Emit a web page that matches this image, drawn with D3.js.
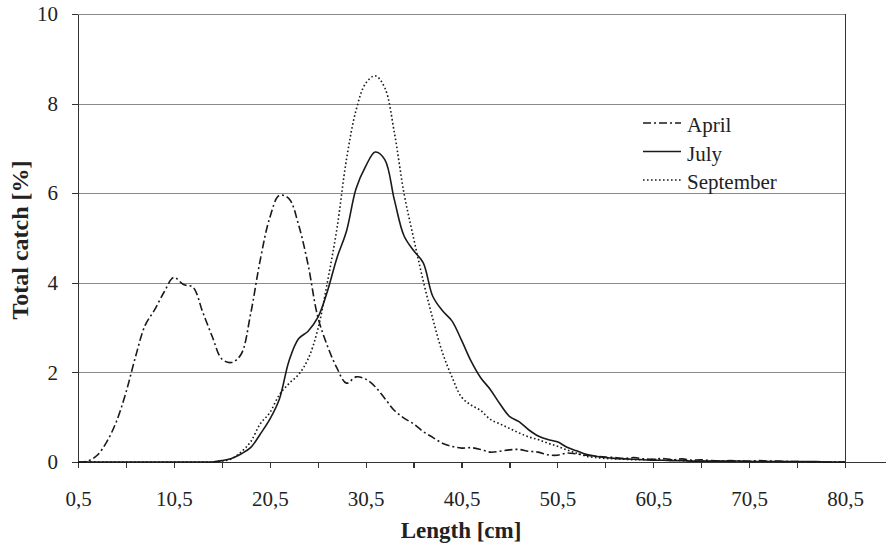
<!DOCTYPE html>
<meta charset="utf-8">
<script src="https://cdn.jsdelivr.net/npm/d3@7"></script>
<style>
    body { margin: 0; background: #fff; }
    svg text { font-family: "Liberation Serif", "Times New Roman", serif; fill: #222; }
    .grid line { stroke: #8a8a8a; stroke-width: 1; shape-rendering: crispEdges; }
    .axis path, .axis line { fill: none; stroke: #333; stroke-width: 1.2; shape-rendering: crispEdges; }
    .line { fill: none; stroke: #1a1a1a; stroke-width: 1.6; }
</style>
<body>
<div id="chart"></div>
<script>

// class midpoints (cm)
var lengths = d3.range(0.5, 81, 1)

var april = [0, 0.02, 0.15, 0.45, 0.9, 1.55, 2.35, 3.05, 3.4, 3.8,
    4.12, 3.96, 3.9, 3.35, 2.8, 2.3, 2.22, 2.4, 3.3, 4.5,
    5.45, 5.95, 5.88, 5.3, 4.4, 3.25, 2.6, 2.1, 1.76, 1.9,
    1.85, 1.68, 1.42, 1.15, 0.98, 0.85, 0.68, 0.55, 0.42, 0.35,
    0.31, 0.32, 0.28, 0.22, 0.24, 0.27, 0.28, 0.24, 0.22, 0.16,
    0.15, 0.2, 0.18, 0.15, 0.13, 0.11, 0.1, 0.08, 0.1, 0.07,
    0.06, 0.08, 0.05, 0.07, 0.04, 0.05, 0.03, 0.02, 0.03, 0.02,
    0.02, 0.03, 0.02, 0.02, 0.01, 0.01, 0, 0, 0, 0, 0]

var july = [0, 0, 0, 0, 0, 0, 0, 0, 0, 0,
    0, 0, 0, 0, 0, 0.03, 0.08, 0.18, 0.32, 0.62,
    0.95, 1.4, 2.25, 2.75, 2.92, 3.22, 3.8, 4.55, 5.15, 6.1,
    6.6, 6.92, 6.75, 5.85, 5.05, 4.72, 4.45, 3.7, 3.38, 3.15,
    2.72, 2.25, 1.88, 1.62, 1.3, 1.02, 0.9, 0.72, 0.58, 0.5,
    0.45, 0.33, 0.25, 0.17, 0.13, 0.1, 0.08, 0.07, 0.06, 0.05,
    0.04, 0.04, 0.03, 0.03, 0.02, 0.02, 0.02, 0.02, 0.02, 0.02,
    0.01, 0.01, 0.01, 0.01, 0.01, 0.01, 0.01, 0.01, 0, 0, 0]

var september = [0, 0, 0, 0, 0, 0, 0, 0, 0, 0,
    0, 0, 0, 0, 0, 0.02, 0.07, 0.22, 0.45, 0.85,
    1.1, 1.5, 1.75, 1.95, 2.3, 2.95, 4.0, 5.2, 6.75, 7.85,
    8.45, 8.62, 8.35, 7.35, 6.0, 5.0, 4.05, 3.2, 2.45, 1.9,
    1.45, 1.27, 1.15, 0.95, 0.85, 0.75, 0.65, 0.56, 0.5, 0.42,
    0.35, 0.27, 0.2, 0.13, 0.1, 0.08, 0.07, 0.06, 0.05, 0.05,
    0.06, 0.04, 0.05, 0.03, 0.03, 0.02, 0.02, 0.02, 0.01, 0.02,
    0.01, 0.01, 0.01, 0.01, 0.01, 0, 0, 0, 0, 0, 0]

var xTicks = d3.range(0.5, 81, 5)
var yTicks = [0, 2, 4, 6, 8, 10]
var seriesNames = ["April", "July", "September"]
var dashes = ["8,3,2,3", null, "1.6,2.4"]

var W = 886, H = 544
var mLeft = 78, mTop = 14
var w = 845 - mLeft
var h = 462 - mTop

var svg = d3.select("#chart").append("svg").attr("width", W).attr("height", H)
var g = svg.append("g").attr("transform", "translate(" + mLeft + "," + mTop + ")")

var x = d3.scaleLinear().domain([0.5, 80.5]).range([0, w])
var y = d3.scaleLinear().domain([0, 10]).range([h, 0])

// horizontal grid
g.append("g").attr("class", "grid").selectAll("line").data(yTicks.filter(d => d > 0)).enter().append("line")
    .attr("x1", 0).attr("x2", w).attr("y1", d => Math.round(y(d)) + 0.5).attr("y2", d => Math.round(y(d)) + 0.5)

// right frame
g.append("line").attr("x1", w + 0.5).attr("x2", w + 0.5).attr("y1", 0).attr("y2", h)
    .style("stroke", "#333").style("stroke-width", 1.2).style("shape-rendering", "crispEdges")

var fmt = v => ((v - 0.5) % 10 === 0) ? String(v).replace(".", ",") : ""

var xAxis = g.append("g").attr("class", "axis").attr("transform", "translate(0," + h + ")")
    .call(d3.axisBottom(x).tickValues(xTicks).tickFormat(fmt).tickSize(6).tickSizeOuter(0))
xAxis.select(".domain").remove()
xAxis.append("line").attr("x1", -6).attr("x2", W - mLeft).attr("y1", 0.5).attr("y2", 0.5)
xAxis.selectAll("text").attr("y", 44).attr("dy", 0).style("font-size", "21px")

var yAxis = g.append("g").attr("class", "axis")
    .call(d3.axisLeft(y).tickValues(yTicks).tickFormat(d3.format("d")).tickSize(6).tickSizeOuter(0))
yAxis.selectAll("text").attr("x", -20).style("font-size", "21px")

var line = d3.line().x((d, i) => x(lengths[i])).y(d => y(d)).curve(d3.curveCatmullRom)

var all = [april, july, september]
all.forEach((s, i) => {
    g.append("path").datum(s).attr("class", "line").attr("d", line)
        .style("stroke-dasharray", dashes[i])
})

// legend
seriesNames.forEach((name, i) => {
    var ly = 123 + 28.5 * i
    svg.append("line").attr("x1", 643).attr("x2", 681).attr("y1", ly).attr("y2", ly)
        .attr("class", "line").style("stroke-dasharray", dashes[i])
    svg.append("text").attr("x", 687).attr("y", ly + 9).text(name).style("font-size", "21px")
})

// axis titles
svg.append("text").attr("x", 461).attr("y", 538).text("Length [cm]")
    .style("text-anchor", "middle").style("font-size", "23px").style("font-weight", "bold")
svg.append("text").attr("transform", "translate(28,240) rotate(-90)").text("Total catch [%]")
    .style("text-anchor", "middle").style("font-size", "24px").style("font-weight", "bold")

</script>
</body>
